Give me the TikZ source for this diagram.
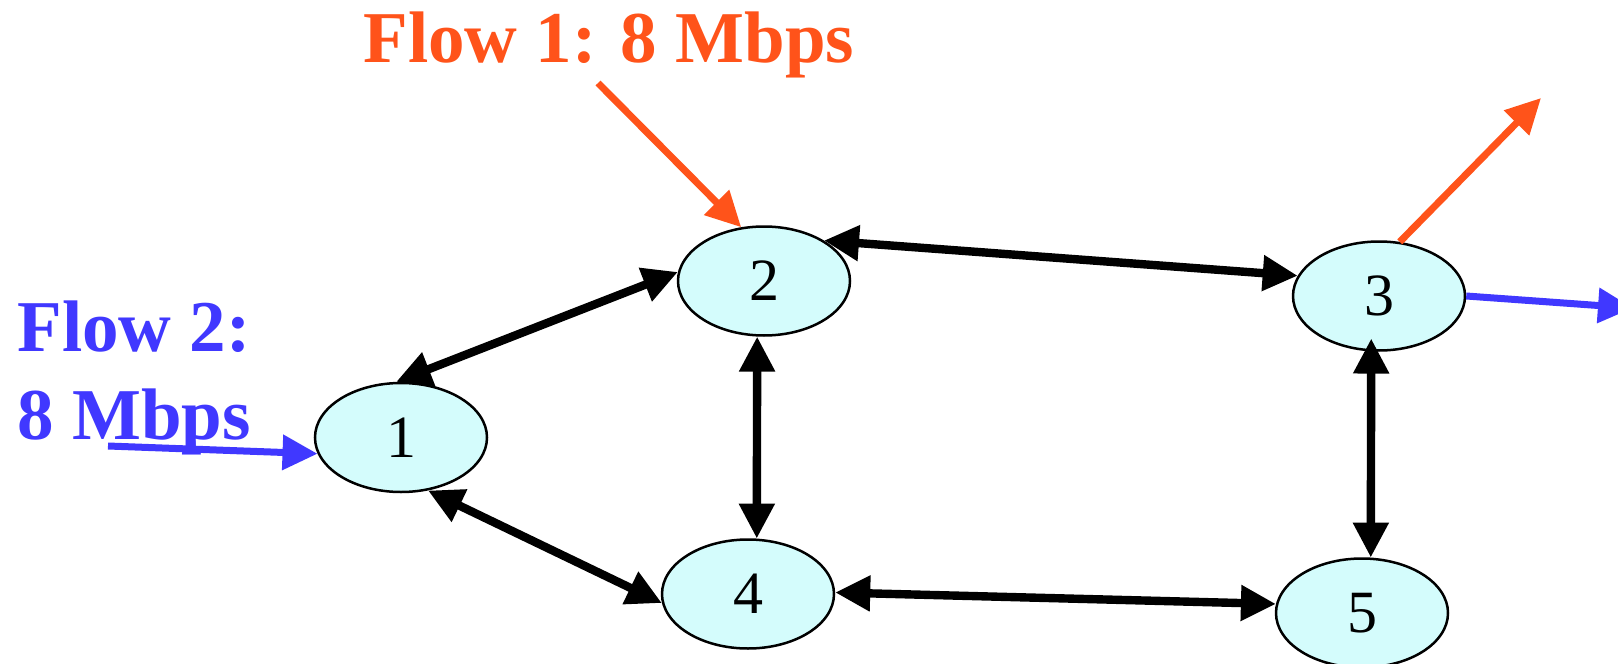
\documentclass[tikz,border=0pt]{standalone}
\usepackage{fontspec}
\setmainfont{Liberation Serif}
\usetikzlibrary{arrows.meta,shapes.geometric}
\definecolor{flowone}{RGB}{255,83,26}
\definecolor{flowtwo}{RGB}{64,56,255}
\definecolor{nodefill}{RGB}{212,252,252}
\tikzset{
  bigtip/.tip={Triangle[length=17.5pt,width=17pt]},
  router/.style={ellipse, draw=black, line width=1.25pt, fill=nodefill,
    minimum width=86pt, minimum height=54.5pt, inner sep=0pt,
    font=\fontsize{30pt}{30pt}\selectfont},
  link/.style={line width=4.2pt, bigtip-bigtip},
  flowarrow/.style={line width=3.5pt, -bigtip},
  flowtext/.style={anchor=base west, inner sep=0pt, align=left,
    font=\fontsize{36.5pt}{44pt}\selectfont\bfseries}
}
\begin{document}
\begin{tikzpicture}[x=0.5pt,y=-0.5pt]
  \clip (0,0) rectangle (1618,664);
  \fill[white] (0,0) rectangle (1618,664);

  % routers
  \node[router] (n1) at (401,437.5) {1};
  \node[router] (n2) at (764,281) {2};
  \node[router] (n3) at (1379,296) {3};
  \node[router] (n4) at (748,594) {4};
  \node[router] (n5) at (1362,613) {5};

  % flow labels (the base anchor of a two-line node is its last baseline)
  \node[flowtext, text=flowone] (f1) at (363,62) {Flow 1: 8 Mbps};
  \node[flowtext, text=flowtwo] (f2) at (17,439) {Flow 2:\\8 Mbps};

  % free ends of the flow arrows
  \coordinate (f1in)  at (598,83);
  \coordinate (f1out) at (1541,98);
  \coordinate (f2in)  at (108,446);
  \coordinate (f2out) at (1633,308);

  % bidirectional links
  \draw[link] (n1.95) -- (n2.174);
  \draw[link] (n1.297) -- (n4.186);
  \draw[link] (n2.263) -- (n4.81);
  \draw[link] (n2.34) -- (n3.166);
  \draw[link] (n4.1) -- (n5.174);
  \draw[link, shorten <=-6.5pt] (n3.262) -- (n5.81);

  % flow 1
  \draw[flowarrow, draw=flowone, fill=flowone] (f1in) -- (n2.113);
  \draw[flowarrow, draw=flowone, fill=flowone] (n3.69) -- (f1out);

  % flow 2
  \draw[flowarrow, draw=flowtwo, fill=flowtwo] (f2in) -- (n1.191);
  \draw[flowarrow, draw=flowtwo, fill=flowtwo] (n3.east) -- (f2out);
\end{tikzpicture}
\end{document}
